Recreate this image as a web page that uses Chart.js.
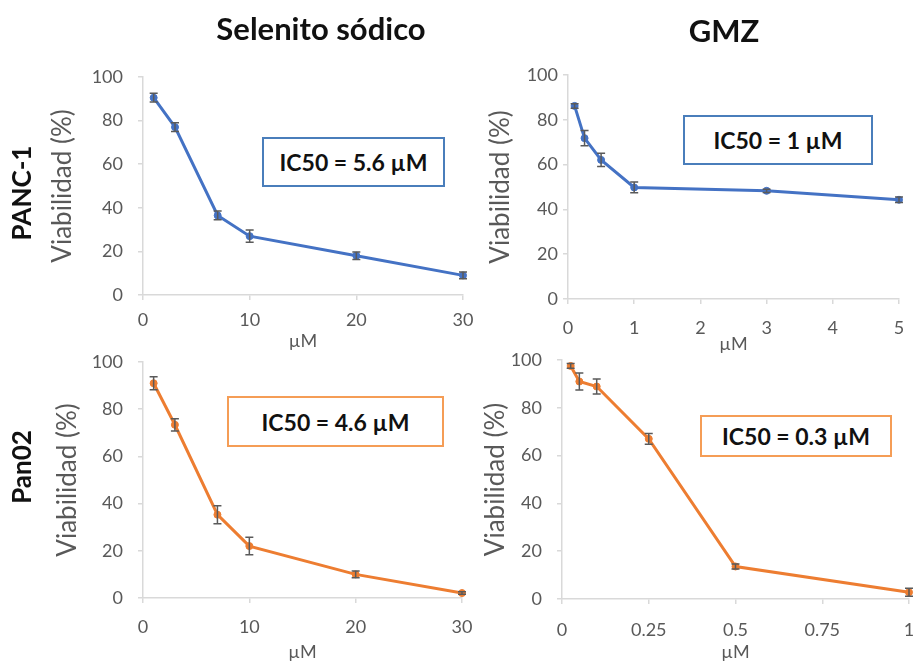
<!DOCTYPE html>
<html>
<head>
<meta charset="utf-8">
<script src="https://cdn.jsdelivr.net/npm/chart.js@4.4.0/dist/chart.umd.min.js"></script>
<style>
  html, body { margin:0; padding:0; background:#fff; }
  #wrap { position:relative; width:916px; height:662px; background:#fff; overflow:hidden; font-family: Lato, "Open Sans", sans-serif; }
  #wrap canvas { position:absolute; left:0; top:0; }
  .title { position:absolute; font-weight:bold; font-size:31px; color:#111; transform:translate(-50%,-50%); white-space:nowrap; }
  .row { position:absolute; font-weight:bold; font-size:26px; color:#111; transform:translate(-50%,-50%) rotate(-90deg); white-space:nowrap; }
  .box { position:absolute; box-sizing:border-box; border:2px solid; background:#fff; display:flex; align-items:center; justify-content:center; font-weight:bold; font-size:23px; color:#111; white-space:nowrap; }
</style>
</head>
<body>
<div id="wrap">
  <canvas id="c1" width="916" height="662"></canvas>
  <canvas id="c2" width="916" height="662"></canvas>
  <canvas id="c3" width="916" height="662"></canvas>
  <canvas id="c4" width="916" height="662"></canvas>
  <div class="title" style="left:321px;top:28px;">Selenito sódico</div>
  <div class="title" style="left:724px;top:30px;">GMZ</div>
  <div class="row" style="left:21px;top:193px;">PANC-1</div>
  <div class="row" style="left:21px;top:467px;">Pan02</div>
  <div class="box" style="left:262px;top:137px;width:183px;height:50px;border-color:#4a7ebb;">IC50 = 5.6 µM</div>
  <div class="box" style="left:683px;top:115px;width:190px;height:50px;border-color:#4a7ebb;">IC50 = 1 µM</div>
  <div class="box" style="left:227px;top:396px;width:217px;height:51px;border-color:#f59d56;">IC50 = 4.6 µM</div>
  <div class="box" style="left:700px;top:415px;width:192px;height:42px;border-color:#f59d56;">IC50 = 0.3 µM</div>
</div>
<script>
// ---- data ----
const selenitoDoses = [1, 3, 7, 10, 20, 30];
const panc1Selenito = [90.5, 77, 36.5, 27, 18, 9];
const panc1SelenitoErr = [2, 2, 2, 2.8, 1.7, 1.5];
const pan02Selenito = [91, 73.4, 35.3, 22, 10, 2.1];
const pan02SelenitoErr = [2.8, 2.6, 3.8, 3.7, 1.4, 0.5];

const gmzDosesPanc1 = [0.1, 0.25, 0.5, 1, 3, 5];
const panc1Gmz = [86.2, 71.8, 62.1, 49.8, 48.3, 44.3];
const panc1GmzErr = [1, 3.4, 3, 2.4, 0.7, 1.2];

const gmzDosesPan02 = [0.025, 0.05, 0.1, 0.25, 0.5, 1];
const pan02Gmz = [97.5, 91, 88.9, 67, 13.6, 2.8];
const pan02GmzErr = [1, 3.6, 3.1, 2.2, 1, 1.7];

const yTicks = [0, 20, 40, 60, 80, 100];
const yTickLabels = ['0', '20', '40', '60', '80', '100'];
const selenitoXTicks = [0, 10, 20, 30];
const selenitoXTickLabels = ['0', '10', '20', '30'];
const gmzPanc1XTicks = [0, 1, 2, 3, 4, 5];
const gmzPanc1XTickLabels = ['0', '1', '2', '3', '4', '5'];
const gmzPan02XTicks = [0, 0.25, 0.5, 0.75, 1];
const gmzPan02XTickLabels = ['0', '0.25', '0.5', '0.75', '1'];

const yAxisTitle = 'Viabilidad (%)';
const xAxisTitle = 'µM';

// ---- styling ----
const BLUE = '#4472c4';
const ORANGE = '#ed7d31';
const AXIS = '#d9d9d9';
const TXT = '#595959';
const FAMILY = 'Lato, "Open Sans", sans-serif';
const TICK_SIZE = 18, YTITLE_SIZE = 26, XTITLE_SIZE = 18, TICK_LEN = 5;
const W = 916, H = 662;

const errorBarPlugin = {
  id: 'errorBars',
  afterDatasetsDraw(chart) {
    const ctx = chart.ctx, xs = chart.scales.x, ys = chart.scales.y;
    chart.data.datasets.forEach(ds => {
      if (!ds.errors) return;
      ctx.save();
      ctx.strokeStyle = '#5a5a5a';
      ctx.lineWidth = 1.5;
      ds.data.forEach((pt, i) => {
        const e = ds.errors[i];
        const px = xs.getPixelForValue(pt.x);
        const t = ys.getPixelForValue(pt.y + e);
        const b = ys.getPixelForValue(pt.y - e);
        ctx.beginPath();
        ctx.moveTo(px, t); ctx.lineTo(px, b);
        ctx.moveTo(px - 4, t); ctx.lineTo(px + 4, t);
        ctx.moveTo(px - 4, b); ctx.lineTo(px + 4, b);
        ctx.stroke();
      });
      ctx.restore();
    });
  }
};

function makeChart(id, spec, doses, values, errors, color, xTicks, xLabels) {
  const scaleLeft = spec.yTitleX - YTITLE_SIZE / 2;
  const yWidth = spec.left - scaleLeft;
  const xLabelPad = spec.xLabelY - spec.bottom - TICK_LEN - TICK_SIZE * 1.2 / 2;
  const scaleBottom = spec.xTitleY + XTITLE_SIZE / 2;
  const xHeight = scaleBottom - spec.bottom;
  const padding = { left: scaleLeft, top: spec.top, right: W - spec.right, bottom: H - scaleBottom };
  new Chart(document.getElementById(id), {
    type: 'line',
    data: {
      datasets: [{
        data: doses.map((d, i) => ({ x: d, y: values[i] })),
        errors: errors,
        borderColor: color,
        backgroundColor: color,
        borderWidth: 3,
        pointRadius: 3.5,
        pointBorderWidth: 1,
        pointBackgroundColor: color,
        pointBorderColor: color,
        tension: 0,
        clip: false
      }]
    },
    options: {
      responsive: false,
      animation: false,
      devicePixelRatio: 1,
      layout: { padding: padding },
      plugins: { legend: { display: false }, tooltip: { enabled: false } },
      scales: {
        x: {
          type: 'linear',
          min: xTicks[0], max: xTicks[xTicks.length - 1],
          afterBuildTicks: s => { s.ticks = xTicks.map(v => ({ value: v })); },
          afterFit: s => { s.height = xHeight; s.paddingLeft = 0; s.paddingRight = 0; },
          grid: { drawOnChartArea: false, drawTicks: true, tickLength: TICK_LEN, color: AXIS, lineWidth: 1.5 },
          border: { display: true, color: AXIS, width: 1.5 },
          ticks: {
            padding: xLabelPad, maxRotation: 0, autoSkip: false,
            color: TXT, font: { family: FAMILY, size: TICK_SIZE },
            callback: (v, i) => xLabels[i]
          },
          title: { display: true, text: xAxisTitle, color: TXT, padding: 0, font: { family: FAMILY, size: XTITLE_SIZE, lineHeight: 1 } }
        },
        y: {
          type: 'linear',
          min: yTicks[0], max: yTicks[yTicks.length - 1],
          afterBuildTicks: s => { s.ticks = yTicks.map(v => ({ value: v })); },
          afterFit: s => { s.width = yWidth; s.paddingTop = 0; s.paddingBottom = 0; },
          grid: { drawOnChartArea: false, drawTicks: true, tickLength: TICK_LEN, color: AXIS, lineWidth: 1.5 },
          border: { display: true, color: AXIS, width: 1.5 },
          ticks: {
            padding: spec.yGap - TICK_LEN, autoSkip: false,
            color: TXT, font: { family: FAMILY, size: TICK_SIZE },
            callback: (v, i) => yTickLabels[i]
          },
          title: { display: true, text: yAxisTitle, color: TXT, padding: 0, font: { family: FAMILY, size: YTITLE_SIZE, lineHeight: 1 } }
        }
      }
    },
    plugins: [errorBarPlugin]
  });
}

makeChart('c1', { left: 143, top: 77, right: 463, bottom: 295, yTitleX: 63, yGap: 20, xLabelY: 320, xTitleY: 341 },
  selenitoDoses, panc1Selenito, panc1SelenitoErr, BLUE, selenitoXTicks, selenitoXTickLabels);
makeChart('c2', { left: 568, top: 75, right: 899, bottom: 299, yTitleX: 501, yGap: 10, xLabelY: 328, xTitleY: 344 },
  gmzDosesPanc1, panc1Gmz, panc1GmzErr, BLUE, gmzPanc1XTicks, gmzPanc1XTickLabels);
makeChart('c3', { left: 143, top: 362, right: 462, bottom: 598, yTitleX: 68, yGap: 20, xLabelY: 627, xTitleY: 652 },
  selenitoDoses, pan02Selenito, pan02SelenitoErr, ORANGE, selenitoXTicks, selenitoXTickLabels);
makeChart('c4', { left: 562, top: 360, right: 909, bottom: 599, yTitleX: 496, yGap: 20, xLabelY: 630, xTitleY: 652 },
  gmzDosesPan02, pan02Gmz, pan02GmzErr, ORANGE, gmzPan02XTicks, gmzPan02XTickLabels);
</script>
</body>
</html>
